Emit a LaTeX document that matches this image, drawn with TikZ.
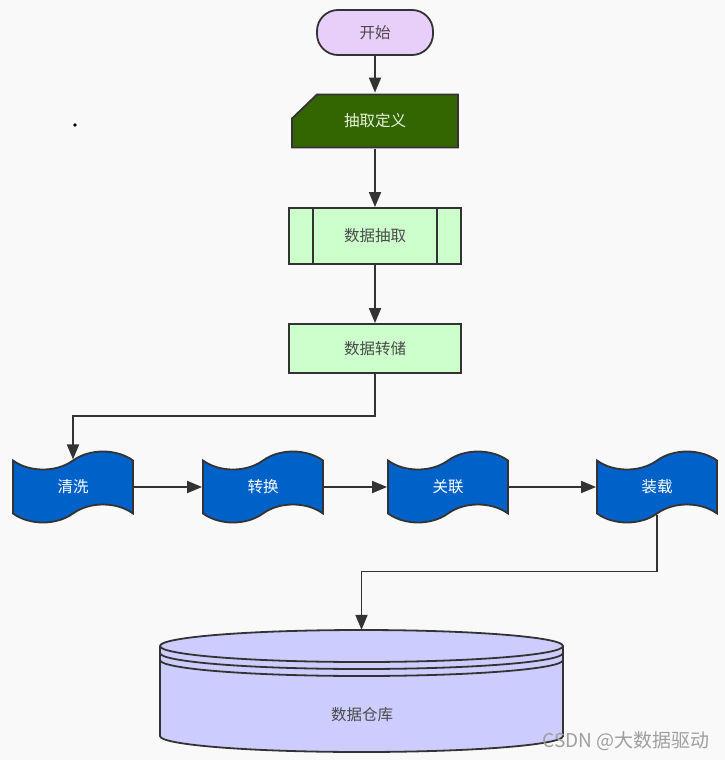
\documentclass[tikz,border=0pt]{standalone}
\usepackage{fontspec}
\setmainfont{Noto Sans CJK SC}
\usepackage{xcolor}
\usetikzlibrary{shapes,shapes.symbols,arrows.meta,positioning}
\definecolor{linegray}{HTML}{333333}
\definecolor{textgray}{HTML}{4A4A4A}
\definecolor{bggray}{HTML}{F9F9F9}
\definecolor{startpurple}{HTML}{E8CFFA}
\definecolor{defgreen}{HTML}{336600}
\definecolor{deftext}{HTML}{E6F2D9}
\definecolor{procgreen}{HTML}{CCFFCC}
\definecolor{tapeblue}{HTML}{0062C8}
\definecolor{storeblue}{HTML}{CCCCFF}
\tikzstyle{base} = [draw=linegray, line width=1.8pt, font=\fontsize{15.5}{18}\selectfont, text=textgray]
\tikzstyle{term} = [base, rectangle, rounded corners=21pt, fill=startpurple, minimum width=116pt, minimum height=45pt]
\tikzstyle{manual} = [base, draw=none, rectangle, text=deftext, minimum width=168pt, minimum height=55pt, path picture={
    \filldraw[fill=defgreen, draw=linegray, line width=1.8pt]
      ([xshift=26pt,yshift=-1pt]path picture bounding box.north west) -- ([xshift=-1pt,yshift=-1pt]path picture bounding box.north east)
      -- ([xshift=-1pt,yshift=1pt]path picture bounding box.south east) -- ([xshift=1pt,yshift=1pt]path picture bounding box.south west)
      -- ([xshift=1pt,yshift=-25pt]path picture bounding box.north west) -- cycle;}]
\tikzstyle{block} = [base, rectangle, fill=procgreen, minimum width=172pt, minimum height=49pt]
\tikzstyle{subproc} = [block, minimum height=56pt, path picture={
    \draw[linegray, line width=1.8pt] ([xshift=24pt]path picture bounding box.north west) -- ([xshift=24pt]path picture bounding box.south west);
    \draw[linegray, line width=1.8pt] ([xshift=-24pt]path picture bounding box.north east) -- ([xshift=-24pt]path picture bounding box.south east);}]
\tikzstyle{wave} = [base, tape, tape bend top=in and out, tape bend bottom=in and out, tape bend height=18pt, fill=tapeblue, text=white, minimum width=120pt, minimum height=71pt]
\tikzstyle{line} = [draw=linegray, line width=1.8pt]

\begin{document}
\begin{tikzpicture}[x=1pt, y=-1pt, node distance=2cm, >={Triangle[length=15pt,width=12pt]}]
  \fill[bggray] (0,0) rectangle (725,760);
  \useasboundingbox (0,0) rectangle (725,760);

  \node [term] (start) at (375,32.5) {开始};
  \node [manual, below of=start, node distance=88.5pt] (define) {抽取定义};
  \node [subproc, below of=define, node distance=115pt] (extract) {数据抽取};
  \node [block, below of=extract, node distance=112.5pt] (dump) {数据转储};

  \node [wave] (clean) at (73,487) {清洗};
  \node [wave, right of=clean, node distance=190pt] (trans) {转换};
  \node [wave, right of=trans, node distance=185pt] (assoc) {关联};
  \node [wave, right of=assoc, node distance=209pt] (load) {装载};

  % data warehouse cylinder
  \node [minimum width=403pt, minimum height=122pt, inner sep=0pt] (store) at (361.5,691) {};
  \filldraw[storeblue, draw=linegray, line width=1.8pt] (160,646) -- (160,736)
    arc[start angle=180, end angle=360, x radius=201.5pt, y radius=16pt] -- (563,646)
    arc[start angle=0, end angle=180, x radius=201.5pt, y radius=16pt] -- cycle;
  \draw[line] (160,646) arc[start angle=180, end angle=360, x radius=201.5pt, y radius=16pt];
  \draw[line] (160,653) arc[start angle=180, end angle=360, x radius=201.5pt, y radius=16pt];
  \draw[line] (160,660) arc[start angle=180, end angle=360, x radius=201.5pt, y radius=16pt];
  \node [font=\fontsize{15.5}{18}\selectfont, text=textgray] (storelabel) at (362,715) {数据仓库};

  \fill[black] (75,125) circle (1.8pt);
  \node [font=\fontsize{19}{22}\selectfont, text=gray!75] (mark) at (626,741) {CSDN @大数据驱动};

  \draw [line, ->] (start) -- (define);
  \draw [line, ->] (define) -- (extract);
  \draw [line, ->] (extract) -- (dump);
  \draw [line, ->] (dump.south) -- ++(0,42) -| (clean.north);
  \draw [line, ->] (clean) -- (trans);
  \draw [line, ->] (trans) -- (assoc);
  \draw [line, ->] (assoc) -- (load);
  \draw [line, ->] (load.south) -- ++(0,57) -| (store.north);
\end{tikzpicture}
\end{document}
